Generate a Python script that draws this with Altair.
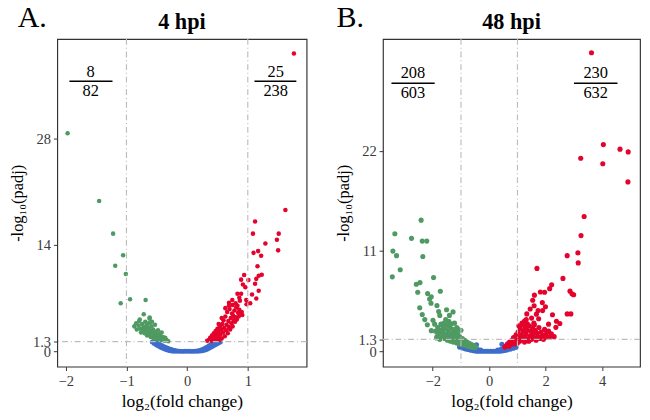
import altair as alt
import pandas as pd

FONT = "Liberation Serif"
GREEN = "#4f9a62"
RED = "#e4032c"
BLUE = "#3d6dcc"

# ---------------- Panel A (4 hpi) ----------------
a_down_x = [-1.97, -1.45, -1.22, -1.055, -1.185, -1.01, -0.94, -1.095, -0.684, -0.715, -0.617,
            -0.87, -0.84, -0.83, -0.80, -0.79, -0.77, -0.76, -0.74, -0.73, -0.72, -0.70, -0.69,
            -0.68, -0.67, -0.66, -0.65, -0.64, -0.63, -0.62, -0.61, -0.60, -0.59, -0.58, -0.57,
            -0.56, -0.55, -0.54, -0.53, -0.52, -0.51, -0.50, -0.49, -0.48, -0.47, -0.46, -0.45,
            -0.44, -0.43, -0.42, -0.41, -0.40, -0.39, -0.37, -0.36, -0.34, -0.33, -0.31,
            -0.78, -0.62, -0.58]
a_down_y = [28.7, 19.8, 15.5, 12.67, 11.28, 10.18, 6.88, 6.34, 6.76, 4.90, 4.48,
            3.3, 3.7, 2.9, 3.4, 4.0, 3.0, 2.5, 3.6, 2.8, 3.2, 2.4, 3.9,
            2.9, 3.4, 2.1, 2.6, 3.1, 3.7, 2.3, 2.8, 1.9, 3.3, 2.5, 2.0,
            2.9, 1.7, 2.3, 3.5, 2.6, 1.9, 2.2, 1.6, 2.8, 1.8, 2.3, 1.5,
            2.0, 1.7, 2.5, 1.5, 1.9, 1.6, 1.4, 1.8, 1.5, 1.4, 1.35,
            4.2, 4.3, 3.9]
a_up_x = [1.76, 1.62, 1.12, 1.085, 1.51, 1.48, 1.29, 1.17, 1.50, 1.095, 1.22, 1.16, 1.23, 1.18,
          0.94, 1.14, 1.01, 0.89, 0.92, 1.12, 0.96, 1.18, 0.83, 0.89, 1.07, 0.86, 1.14, 0.745,
          0.975, 1.04, 0.87, 0.69, 0.80, 0.98,
          0.33, 0.36, 0.38, 0.40, 0.41, 0.43, 0.44, 0.45, 0.46, 0.47, 0.48, 0.49, 0.50, 0.51,
          0.52, 0.53, 0.54, 0.55, 0.56, 0.57, 0.58, 0.59, 0.60, 0.61, 0.62, 0.63, 0.64, 0.65,
          0.66, 0.67, 0.68, 0.69, 0.70, 0.71, 0.72, 0.73, 0.74, 0.75, 0.76, 0.77, 0.78, 0.79,
          0.80, 0.81, 0.82, 0.84, 0.85, 0.86, 0.88, 0.90, 0.91, 0.63, 0.69, 0.75, 0.83, 0.57, 0.52]
a_up_y = [39.2, 18.6, 17.1, 15.5, 15.5, 14.7, 14.2, 13.2, 13.3, 12.97, 12.6, 11.2, 10.1, 9.97,
          10.05, 9.55, 9.4, 9.45, 8.8, 8.9, 8.45, 8.0, 7.6, 7.6, 7.5, 7.06, 6.97, 6.76,
          6.76, 6.34, 6.68, 6.42, 6.34, 6.2,
          1.4, 1.5, 1.8, 1.4, 2.1, 1.7, 2.4, 1.5, 2.0, 2.7, 1.6, 2.3, 3.0, 1.9,
          2.6, 1.5, 3.3, 2.2, 2.9, 1.7, 3.6, 2.5, 4.1, 3.1, 2.0, 4.6, 2.8, 3.5,
          5.2, 2.4, 4.0, 3.2, 5.6, 2.9, 4.4, 3.7, 5.0, 3.3, 4.7, 4.1, 5.4, 3.9,
          4.5, 5.8, 4.2, 5.1, 4.6, 5.5, 4.9, 5.2, 4.8, 5.7, 6.0, 6.1, 6.0, 4.4, 3.6]
a_ns_x = [-0.58, -0.55, -0.52, -0.49, -0.46, -0.43, -0.40, -0.37, -0.34, -0.31, -0.28, -0.25,
          -0.22, -0.18, -0.14, -0.10, -0.06, -0.02, 0.02, 0.06, 0.10, 0.14, 0.18, 0.22, 0.25,
          0.28, 0.31, 0.34, 0.37, 0.40, 0.43, 0.46, 0.49, 0.52, 0.55,
          -0.56, -0.53, -0.50, -0.47, -0.44, -0.41, -0.38, -0.35, -0.32, -0.29, -0.26, -0.23,
          -0.20, -0.16, 0.16, 0.20, 0.24, 0.27, 0.30, 0.33, 0.36, 0.39, 0.42, 0.45, 0.48,
          -0.12, -0.08, -0.04, 0.00, 0.04, 0.08, 0.12]
a_ns_y = [1.25, 1.05, 0.9, 0.75, 0.62, 0.5, 0.38, 0.28, 0.2, 0.12, 0.06, 0.02,
          0.0, 0.0, 0.0, 0.0, 0.0, 0.0, 0.0, 0.0, 0.0, 0.0, 0.0, 0.02, 0.06,
          0.12, 0.2, 0.3, 0.42, 0.55, 0.68, 0.82, 0.95, 1.08, 1.2,
          1.3, 1.25, 1.15, 1.0, 0.9, 0.78, 0.66, 0.55, 0.45, 0.36, 0.28, 0.2,
          0.15, 0.1, 0.1, 0.15, 0.25, 0.35, 0.48, 0.62, 0.78, 0.92, 1.05, 1.18, 1.28,
          0.05, 0.04, 0.06, 0.05, 0.05, 0.04, 0.06]

# ---------------- Panel B (48 hpi) ----------------
b_down_x = [-2.41, -3.34, -2.75, -2.37, -2.21, -3.41, -3.28, -2.35, -3.15, -3.43, -1.97, -2.45,
            -2.58, -1.73, -2.53, -2.18, -2.05, -2.11, -2.06, -1.85, -2.46, -1.51, -1.79, -1.28,
            -2.37, -1.75, -1.41, -2.28, -1.99, -1.54, -1.43, -1.23, -2.19, -1.93, -1.71, -2.05,
            -1.63, -1.82, -1.86,
            -1.90, -1.85, -1.82, -1.78, -1.75, -1.72, -1.68, -1.65, -1.62, -1.58, -1.55, -1.52,
            -1.48, -1.45, -1.42, -1.40, -1.37, -1.35, -1.32, -1.30, -1.27, -1.25, -1.22, -1.20,
            -1.17, -1.15, -1.12, -1.10, -1.07, -1.05, -1.02, -1.00, -0.98, -0.95, -0.92, -0.90,
            -0.87, -0.84, -0.81, -0.78, -0.75, -0.72, -0.69, -0.66, -0.63, -0.60, -0.57, -0.54,
            -0.51, -0.48, -1.60, -1.50, -1.35, -1.15, -1.10]
b_down_y = [14.4, 12.9, 12.4, 12.1, 12.1, 11.0, 10.5, 10.4, 8.95, 8.17, 8.1, 7.54,
            7.36, 6.58, 6.48, 6.33, 5.98, 5.73, 5.27, 5.02, 4.78, 4.56, 4.35, 4.32,
            4.03, 3.93, 3.93, 3.47, 3.40, 3.47, 3.29, 3.08, 2.9, 2.97, 2.97, 2.26,
            2.44, 2.02, 1.45,
            2.2, 1.6, 2.6, 1.9, 1.3, 2.3, 1.6, 2.8, 2.0, 1.4, 2.5, 1.8,
            1.2, 2.2, 1.6, 2.7, 1.1, 1.9, 1.4, 2.4, 1.0, 1.7, 2.1, 1.2,
            1.5, 0.9, 1.9, 1.3, 0.8, 1.6, 1.1, 2.3, 0.75, 1.4, 1.0, 0.65,
            1.2, 0.8, 0.6, 1.0, 0.7, 0.5, 0.85, 0.55, 0.45, 0.7, 0.5, 0.42,
            0.6, 0.45, 3.1, 2.9, 3.0, 2.6, 2.4]
b_up_x = [3.62, 4.04, 4.63, 4.92, 3.24, 4.02, 4.91, 3.36, 3.25, 3.14, 2.76, 3.15, 1.69, 2.61,
          2.21, 2.14, 1.81, 1.96, 2.86, 2.93, 2.99, 1.60, 1.54, 1.88, 1.59, 1.99, 1.45, 1.73,
          1.89, 1.33, 1.67, 2.24, 2.76, 2.89, 1.50, 1.75, 1.31, 2.38, 1.16, 1.58, 2.50, 2.10,
          2.36, 2.04, 1.95,
          0.55, 0.60, 0.65, 0.70, 0.72, 0.76, 0.80, 0.83, 0.86, 0.90, 0.92, 0.95, 0.98, 1.00,
          1.02, 1.05, 1.08, 1.10, 1.12, 1.15, 1.18, 1.20, 1.23, 1.25, 1.28, 1.30, 1.33, 1.36,
          1.40, 1.42, 1.45, 1.48, 1.50, 1.53, 1.56, 1.60, 1.63, 1.66, 1.70, 1.73, 1.76, 1.80,
          1.84, 1.88, 1.92, 1.96, 2.00, 2.05, 2.10, 2.15, 2.20, 2.30, 1.35, 1.60, 1.05, 1.25]
b_up_y = [32.8, 22.7, 22.2, 21.9, 21.2, 20.6, 18.6, 14.8, 12.7, 10.8, 10.5, 9.7, 9.1, 8.0,
          7.3, 6.87, 6.5, 6.48, 6.6, 6.3, 6.2, 6.16, 5.6, 5.34, 4.99, 4.88, 4.64, 4.46,
          4.46, 4.1, 4.07, 4.0, 4.1, 4.1, 3.64, 3.57, 3.47, 3.29, 3.08, 3.08, 3.05, 2.97,
          2.62, 2.09, 1.73,
          0.45, 0.6, 0.8, 0.55, 1.0, 0.7, 1.2, 0.9, 1.5, 0.8, 1.1, 1.8, 1.3, 0.9,
          2.1, 1.5, 1.1, 2.5, 1.8, 1.3, 2.9, 2.2, 1.6, 1.0, 2.6, 1.9, 1.4, 2.3,
          1.1, 2.8, 1.7, 2.2, 1.3, 2.6, 1.9, 1.5, 2.3, 1.2, 2.0, 1.6, 2.6, 1.4,
          2.1, 1.7, 1.3, 2.4, 1.8, 1.5, 2.2, 1.6, 1.9, 1.6, 3.0, 2.9, 2.8, 3.3]
b_ns_x = [-1.05, -0.95, -0.85, -0.75, -0.65, -0.55, -0.45, -0.35, -0.25, -0.15, -0.05, 0.05,
          0.15, 0.25, 0.35, 0.45, 0.55, 0.65, 0.75, 0.85, 0.95,
          -1.00, -0.90, -0.80, -0.70, -0.60, -0.50, -0.40, -0.30, 0.30, 0.40, 0.50, 0.60,
          0.70, 0.80, 0.90, -0.45, 0.45]
b_ns_y = [0.45, 0.35, 0.26, 0.18, 0.1, 0.05, 0.0, 0.0, 0.0, 0.0, 0.0, 0.0,
          0.0, 0.0, 0.0, 0.02, 0.08, 0.15, 0.23, 0.32, 0.42,
          0.8, 0.65, 0.52, 0.42, 0.33, 0.25, 0.18, 0.12, 0.12, 0.18, 0.26, 0.35,
          0.45, 0.58, 0.72, 0.7, 0.75]

# annotation values (counts) and their places in data units
a_frac_x = [-1.59, 1.46]
a_frac_line_x1 = [-1.94, 1.11]
a_frac_line_x2 = [-1.23, 1.80]
a_num = ["8", "25"]
a_den = ["82", "238"]
a_frac_y = [36.75, 35.55, 34.2]

b_frac_x = [-2.70, 3.77]
b_frac_line_x1 = [-3.46, 3.00]
b_frac_line_x2 = [-1.93, 4.54]
b_num = ["208", "230"]
b_den = ["603", "632"]
b_frac_y = [30.55, 29.44, 28.3]

fc_cut = [-1, 1]
padj_cut = [1.3]


def panel(dx, dy, ux, uy, nx, ny, xdom, ydom, xticks, yticks, title, letter,
          fx, fl1, fl2, num, den, fy, width, height, psize, letter_x):
    pts = pd.concat([
        pd.DataFrame({"x": nx, "y": ny, "g": "ns"}),
        pd.DataFrame({"x": dx, "y": dy, "g": "down"}),
        pd.DataFrame({"x": ux, "y": uy, "g": "up"}),
    ], ignore_index=True)
    pts["o"] = pts["g"].map({"ns": 0, "down": 1, "up": 2})

    xs = alt.Scale(domain=xdom, nice=False, zero=False)
    ys = alt.Scale(domain=ydom, nice=False, zero=False)
    xaxis = alt.Axis(values=xticks, title="log\u2082(fold change)", grid=False, domain=False,
                     tickSize=4, tickColor="#333333", labelFont=FONT, labelFontSize=15,
                     labelColor="#3a3a3a", titleFont=FONT, titleFontSize=18,
                     titleFontWeight="normal", titleColor="black", labelPadding=3,
                     titlePadding=5, format=".1~f")
    yaxis = alt.Axis(values=yticks, title="-log\u2081\u2080(padj)", grid=False, domain=False,
                     tickSize=4, tickColor="#333333", labelFont=FONT, labelFontSize=15,
                     labelColor="#3a3a3a", titleFont=FONT, titleFontSize=17,
                     titleFontWeight="normal", titleColor="black", labelOverlap=False,
                     labelPadding=3, titlePadding=6, labelFlush=False, format=".1~f")

    points = alt.Chart(pts).mark_circle(size=psize, opacity=1).encode(
        x=alt.X("x:Q", scale=xs, axis=xaxis),
        y=alt.Y("y:Q", scale=ys, axis=yaxis),
        color=alt.Color("g:N", scale=alt.Scale(domain=["ns", "down", "up"],
                                                range=[BLUE, GREEN, RED]), legend=None),
        order=alt.Order("o:Q"),
    )
    vl = alt.Chart(pd.DataFrame({"x": fc_cut})).mark_rule(
        color="#bdbdbd", strokeDash=[6, 3, 1, 3], strokeWidth=1.2).encode(
        x=alt.X("x:Q", scale=xs))
    hl = alt.Chart(pd.DataFrame({"y": padj_cut})).mark_rule(
        color="#bdbdbd", strokeDash=[6, 3, 1, 3], strokeWidth=1.2).encode(
        y=alt.Y("y:Q", scale=ys))
    fr = pd.DataFrame({"x": fx, "x1": fl1, "x2": fl2, "num": num, "den": den,
                       "yn": [fy[0]] * 2, "yl": [fy[1]] * 2, "yd": [fy[2]] * 2})
    tnum = alt.Chart(fr).mark_text(font=FONT, fontSize=17, color="black", baseline="middle").encode(
        x=alt.X("x:Q", scale=xs), y=alt.Y("yn:Q", scale=ys), text="num:N")
    tden = alt.Chart(fr).mark_text(font=FONT, fontSize=17, color="black", baseline="middle").encode(
        x=alt.X("x:Q", scale=xs), y=alt.Y("yd:Q", scale=ys), text="den:N")
    fline = alt.Chart(fr).mark_rule(color="black", strokeWidth=1.5).encode(
        x=alt.X("x1:Q", scale=xs), x2="x2:Q", y=alt.Y("yl:Q", scale=ys))
    lab = alt.Chart(pd.DataFrame({"t": [letter]})).mark_text(
        font=FONT, fontSize=31, color="black", align="left", baseline="alphabetic").encode(
        x=alt.value(letter_x), y=alt.value(-12), text="t:N")
    ttl = alt.Chart(pd.DataFrame({"t": [title]})).mark_text(
        font=FONT, fontSize=23, fontWeight="bold", color="black", align="center",
        baseline="alphabetic").encode(
        x=alt.value(width / 2), y=alt.value(-10), text="t:N")

    return alt.layer(points, vl, hl, fline, tnum, tden, lab, ttl).properties(
        width=width, height=height)


pa = panel(a_down_x, a_down_y, a_up_x, a_up_y, a_ns_x, a_ns_y,
           [-2.14, 1.97], [-2.0, 41.1], [-2, -1, 0, 1], [0, 1.3, 14, 28], "4 hpi", "A.",
           a_frac_x, a_frac_line_x1, a_frac_line_x2, a_num, a_den, a_frac_y,
           258, 339, 22, -41)
pb = panel(b_down_x, b_down_y, b_up_x, b_up_y, b_ns_x, b_ns_y,
           [-3.76, 5.34], [-1.7, 34.3], [-2, 0, 2, 4], [0, 1.3, 11, 22], "48 hpi", "B.",
           b_frac_x, b_frac_line_x1, b_frac_line_x2, b_num, b_den, b_frac_y,
           266, 339, 28, -48)

chart = alt.hconcat(pa, pb, spacing=26).configure_view(
    stroke="#333333", strokeWidth=1.2
).properties(padding={"left": 0, "right": 0, "top": -13, "bottom": 0})

chart.save("out.html", embed_options={"renderer": "svg", "actions": False})
